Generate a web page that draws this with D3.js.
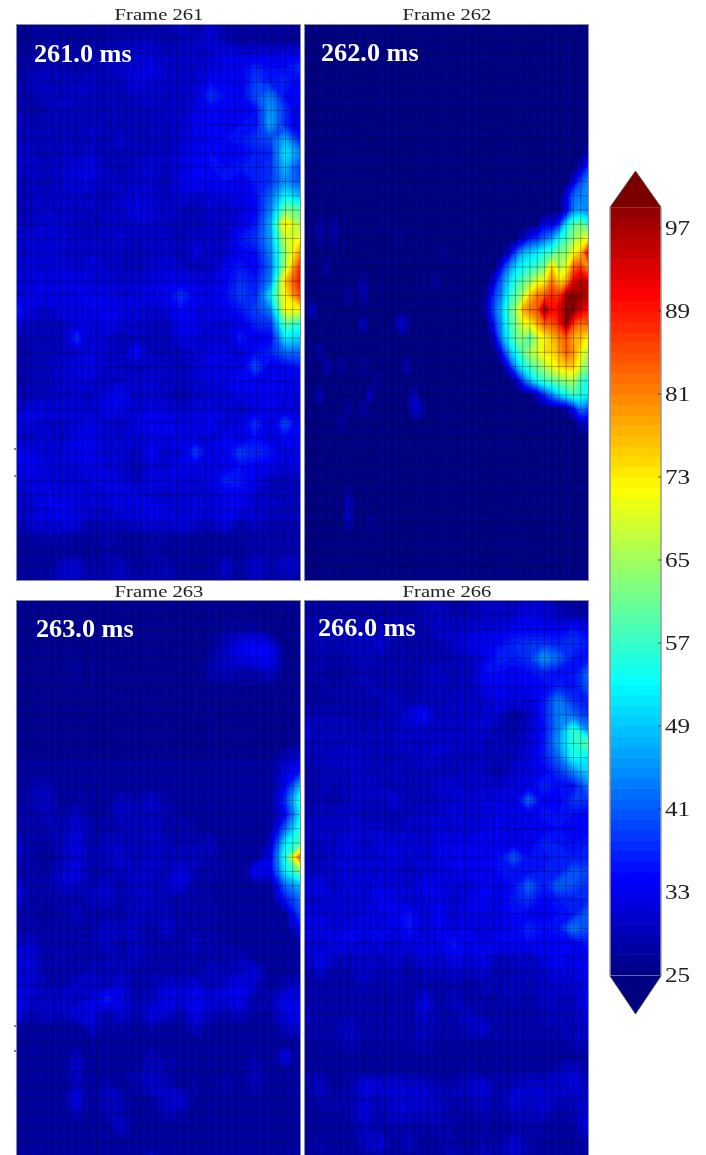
<!DOCTYPE html>
<html><head><meta charset="utf-8">
<script src="https://cdnjs.cloudflare.com/ajax/libs/d3/7.8.5/d3.min.js"></script>
<style>html,body{margin:0;padding:0;background:#fff;overflow:hidden}svg{display:block;filter:blur(0.45px)}</style>
</head><body><svg id="c" width="706" height="1155"></svg>
<script>
const frame261 = [
[26,27,27,27,27,27,28,27,27,27,28,31,27,31,28,27,27,27,27,27],
[26,27,28,28,27,27,28,29,29,30,28,29,30,32,29,27,28,27,27,26],
[27,28,28,28,28,29,29,30,31,31,30,30,30,31,33,32,32,32,33,32],
[27,29,30,29,28,29,30,31,32,34,31,30,31,32,33,34,37,35,35,38],
[28,30,30,29,30,31,29,30,33,31,31,30,31,35,34,33,39,36,37,33],
[28,29,30,30,31,29,30,29,31,30,30,30,32,38,35,34,40,44,35,34],
[29,28,29,30,29,29,29,30,29,30,30,30,33,34,34,33,35,46,38,31],
[30,29,30,29,30,30,30,29,29,30,30,31,34,35,33,35,35,47,37,32],
[29,30,29,30,29,30,29,32,29,30,29,31,33,34,35,36,38,40,47,36],
[30,30,29,30,30,31,29,30,29,30,30,32,34,35,33,34,36,37,52,44],
[30,31,30,31,32,33,30,29,31,32,30,32,34,35,35,36,36,38,48,38],
[29,30,29,31,32,32,30,30,30,31,29,33,35,34,35,33,36,38,45,40],
[29,30,30,30,31,30,29,31,32,31,30,32,31,32,32,33,35,42,53,48],
[28,30,31,30,30,30,30,31,33,32,30,30,29,31,30,32,34,44,62,60],
[29,30,32,31,30,29,30,30,31,31,30,29,29,31,30,33,36,47,75,65],
[31,32,31,32,30,30,30,32,30,30,31,29,31,30,31,36,38,46,68,72],
[30,31,32,31,30,31,30,30,29,30,31,29,33,30,31,34,35,44,64,80],
[31,32,31,32,31,32,31,30,29,31,32,31,29,30,34,36,34,42,66,88],
[31,32,33,32,33,32,31,31,31,32,33,33,33,32,34,38,36,44,76,90],
[31,33,33,32,33,33,33,32,32,33,34,38,34,33,35,39,37,52,72,86],
[37,32,31,33,32,33,34,33,32,31,32,35,33,32,34,36,39,44,72,72],
[32,30,29,30,32,32,33,32,31,30,30,34,33,32,31,33,37,38,60,56],
[28,29,29,30,38,31,31,29,30,29,29,33,32,31,31,37,33,34,52,50],
[28,29,29,30,31,32,31,30,36,30,29,30,31,33,33,31,35,37,42,42],
[28,29,30,31,33,33,31,30,29,30,31,29,31,33,32,33,40,33,34,36],
[28,29,29,31,31,32,30,31,31,32,30,30,32,32,33,34,34,33,33,32],
[29,29,30,30,31,30,33,35,30,31,30,28,30,31,31,33,33,34,33,32],
[30,33,32,32,31,31,33,33,31,33,32,31,32,32,32,30,32,33,32,31],
[32,32,31,30,32,33,31,30,33,34,34,32,33,35,31,33,38,32,40,33],
[30,30,32,30,33,33,31,31,31,32,33,32,32,31,35,32,35,32,35,34],
[34,33,31,32,33,34,31,32,30,35,31,32,39,33,34,39,37,36,32,33],
[33,34,32,31,32,33,32,31,29,32,31,33,33,32,33,35,34,33,32,33],
[31,32,32,31,31,32,32,32,30,33,33,32,31,33,37,36,33,30,29,30],
[30,32,33,32,33,31,32,33,32,31,30,31,31,31,33,34,31,30,29,29],
[30,31,33,34,32,31,31,33,32,34,33,31,33,32,33,33,31,30,30,29],
[29,32,32,32,33,29,30,30,31,32,31,33,31,30,34,29,31,29,29,29],
[28,28,29,29,28,28,28,28,27,28,28,28,28,27,28,28,28,28,28,28],
[27,27,27,27,27,27,28,27,27,29,27,27,27,27,27,27,29,28,28,28],
[27,27,27,31,32,28,29,31,27,28,30,27,27,27,32,28,32,29,32,30],
[27,27,27,30,30,28,28,30,28,28,29,27,27,27,29,27,30,28,28,28]
];
const frame263 = [
[26,26,26,26,26,26,26,26,26,26,26,26,26,26,26,26,26,26,26,26],
[26,26,26,26,26,26,26,26,26,26,26,26,26,26,26,26,26,26,26,26],
[26,26,26,26,26,26,26,26,26,26,26,26,26,26,28,28,28,26,26,26],
[26,26,26,26,26,26,26,26,26,26,26,26,26,27,30,34,35,33,26,26],
[26,26,26,26,27,26,26,26,26,26,26,26,26,28,31,33,34,35,27,26],
[26,26,26,26,28,26,26,26,26,26,26,26,26,29,30,29,29,31,27,26],
[26,26,26,26,27,26,26,26,26,26,26,26,26,27,27,27,27,27,26,26],
[26,26,26,26,26,26,26,26,26,26,26,26,26,26,26,26,26,26,26,26],
[26,26,26,26,26,26,26,26,26,26,26,26,26,26,26,26,26,26,26,26],
[26,26,26,26,26,26,26,26,26,26,26,26,26,26,26,26,26,26,26,26],
[26,26,26,26,26,26,26,26,26,26,26,26,26,26,26,26,26,26,26,27],
[27,27,27,27,27,27,27,27,27,27,27,27,27,27,27,27,27,27,30,31],
[27,27,27,27,27,27,27,27,27,27,27,27,27,27,27,27,27,27,33,36],
[27,29,30,27,28,27,27,27,27,27,27,27,27,27,27,27,27,27,34,48],
[27,29,31,27,28,28,27,31,29,32,29,27,27,27,27,27,27,27,38,56],
[28,28,30,28,31,27,28,31,29,30,29,28,27,27,27,27,27,27,34,52],
[28,28,29,29,32,29,28,29,29,31,28,28,28,27,27,27,27,28,42,56],
[31,28,28,30,33,28,31,30,29,30,30,29,29,31,27,27,27,30,52,58],
[30,28,27,29,32,29,30,32,29,31,29,30,29,29,27,27,27,33,56,84],
[28,28,28,31,33,28,29,30,30,31,29,33,29,28,28,27,36,33,52,62],
[32,28,29,31,31,29,32,28,31,29,31,33,28,28,27,27,27,27,42,48],
[32,28,28,28,28,30,31,29,30,31,29,28,28,28,27,27,27,27,36,42],
[28,28,27,28,31,28,28,28,30,29,30,28,28,28,28,27,27,27,28,40],
[28,28,28,28,28,29,31,30,30,28,32,28,28,28,27,27,27,27,27,34],
[30,31,28,28,28,29,31,28,30,28,29,28,31,28,28,27,27,27,27,28],
[32,32,28,30,28,28,29,29,31,28,28,28,29,28,28,30,27,27,27,27],
[31,32,28,28,28,30,29,30,28,29,28,28,28,31,29,30,33,27,27,27],
[32,31,29,29,32,30,30,32,28,29,32,31,33,29,32,34,31,27,30,31],
[33,31,30,31,30,32,37,33,29,30,33,32,34,32,32,34,28,29,34,32],
[33,29,31,30,33,33,29,32,29,33,32,29,34,30,29,31,28,28,33,33],
[29,27,28,27,27,31,28,29,27,29,27,27,31,27,27,27,27,27,31,31],
[27,27,27,28,27,28,27,27,27,27,27,27,27,27,27,27,27,27,27,28],
[27,27,27,27,31,27,27,27,27,30,28,28,27,27,27,27,29,27,34,27],
[28,27,27,27,31,27,27,28,28,30,29,27,27,27,27,27,30,27,28,27],
[27,27,27,27,30,27,30,27,29,31,30,27,29,27,30,27,30,27,27,27],
[27,28,27,27,34,27,30,30,27,28,31,33,27,27,27,27,28,27,28,27],
[27,27,27,27,30,27,29,29,27,27,30,29,27,27,27,27,27,27,27,27],
[27,27,27,27,27,27,27,32,27,27,27,27,27,27,27,27,27,27,27,27],
[27,27,27,27,27,27,27,27,27,27,27,27,27,28,27,27,27,27,27,27],
[27,27,27,27,27,27,27,27,27,30,27,27,27,27,27,27,27,27,27,27]
];
const frame266 = [
[27,27,27,27,27,27,27,27,29,29,27,28,31,30,29,31,31,28,27,27],
[28,28,28,28,28,28,28,28,29,30,29,29,30,30,31,33,32,30,29,28],
[29,29,29,29,30,30,29,28,29,31,30,31,32,32,34,34,34,33,36,33],
[28,30,29,30,30,32,29,28,28,29,31,33,34,35,37,38,38,37,38,36],
[27,29,28,29,29,29,28,28,28,28,29,30,32,37,36,38,46,42,36,35],
[28,28,27,28,29,28,28,28,30,31,29,29,35,35,34,35,37,35,35,42],
[27,28,28,29,29,29,28,28,29,31,29,29,33,34,33,34,34,37,35,41],
[28,27,28,28,28,29,31,29,29,29,31,30,31,33,32,32,36,44,38,36],
[29,29,29,29,28,29,29,33,36,30,30,30,31,31,27,30,36,44,42,38],
[33,29,29,29,29,29,30,31,30,30,30,31,31,29,28,31,35,44,56,44],
[30,29,29,30,29,29,30,31,30,31,31,30,30,29,29,31,36,46,56,60],
[29,30,31,30,31,29,29,30,31,31,30,29,30,29,30,32,36,42,54,52],
[28,29,29,30,30,29,31,29,30,29,29,30,30,28,31,32,34,38,44,50],
[28,29,29,30,30,30,29,30,29,32,32,30,31,31,32,33,37,35,35,43],
[28,29,28,30,30,30,33,29,29,30,31,31,32,33,32,42,34,34,38,38],
[29,30,30,31,29,29,29,30,31,31,33,31,32,33,33,33,36,35,35,34],
[30,31,30,31,31,31,30,31,30,32,31,31,33,33,32,33,33,35,34,34],
[29,30,31,33,30,32,32,31,31,33,33,33,33,33,33,33,37,36,35,36],
[29,29,31,32,31,31,33,31,31,33,33,33,34,35,41,35,35,37,36,36],
[30,30,31,31,32,31,31,30,31,32,33,33,33,35,35,35,36,36,41,39],
[32,34,30,33,31,33,31,31,34,33,32,31,34,32,35,42,36,42,40,38],
[30,31,31,31,31,34,33,31,32,33,31,33,35,33,36,38,34,36,36,37],
[32,32,31,31,32,32,33,36,31,35,31,33,32,32,35,34,33,35,36,42],
[33,33,32,33,33,33,33,36,31,34,32,33,32,33,34,37,35,36,44,40],
[31,31,33,33,31,33,31,33,32,33,36,33,33,34,34,35,33,34,34,36],
[30,34,31,30,31,30,32,30,33,31,34,32,34,30,31,30,33,35,33,33],
[28,32,28,29,31,29,30,28,30,30,31,30,32,28,29,30,31,33,32,35],
[28,28,28,28,30,28,30,28,29,28,29,28,29,29,29,29,30,31,31,33],
[28,28,28,28,28,28,28,28,33,28,31,28,29,28,30,28,31,30,30,34],
[30,28,28,29,28,28,28,28,32,28,29,31,28,29,28,28,29,29,29,33],
[29,28,29,31,28,28,28,28,30,29,28,30,33,28,28,28,29,29,29,31],
[28,28,28,30,28,28,28,29,29,28,28,28,28,28,28,28,28,28,30,30],
[27,27,27,28,27,27,27,27,28,27,27,27,27,27,27,27,27,27,27,28],
[28,28,27,28,27,27,28,28,27,27,27,28,27,28,28,28,28,30,32,28],
[28,32,27,29,34,32,32,31,31,29,29,31,33,28,30,31,31,30,33,29],
[27,29,28,28,31,29,31,31,32,30,29,29,31,28,33,31,32,30,30,31],
[27,28,28,29,33,29,31,31,30,30,28,28,30,28,30,30,31,28,29,32],
[27,27,27,27,30,28,29,28,28,29,28,27,28,27,28,28,28,27,28,33],
[27,29,27,27,31,32,28,31,27,28,28,27,29,28,32,29,28,27,27,29],
[27,28,27,27,28,29,27,28,27,27,30,27,30,28,31,28,27,27,27,28]
];
// Frame 262: floor value, plus the nodes that rise above it (node row, node column, value...)
const frame262Floor = 25.4;
const frame262Core = [
[9,39,30],
[10,37,26,30,38],
[11,36,26,32,40,44],
[12,35,26,33,42,44,44],
[13,35,26,32,44,46,44],
[14,32,26,34,32,38,52,60,62,56],
[15,29,26,30,36,38,42,46,54,58,64,68,72],
[16,27,26,30,40,48,50,52,56,58,62,64,72,76,92],
[17,26,26,34,44,50,54,56,58,62,76,66,70,84,86,80],
[18,25,26,32,42,50,56,60,64,70,72,82,74,78,92,96,94],
[19,25,28,38,44,54,60,66,76,82,84,88,86,98,100,98,96],
[20,25,30,40,48,58,64,78,82,84,100,90,92,100,100,94,90],
[21,25,26,36,46,56,62,70,72,78,84,84,88,100,86,82,84],
[22,26,30,44,54,60,64,58,68,72,76,80,84,78,76,72],
[23,26,26,34,46,54,60,66,68,74,74,78,84,80,72,66],
[24,27,26,34,46,54,58,62,66,70,74,76,76,68,62],
[25,29,28,40,48,54,58,60,62,64,66,58,54],
[26,31,26,30,38,44,50,54,58,56,52],
[27,35,26,28,34,44,40],
[28,38,30,30]
];
const frame262Faint = [
[14,2,29],[15,2,29],[14,4,29],[15,4,29],[17,3,29],[18,8,29],[19,6,29],[19,8,30],[20,1,33],[21,8,32],
[21,13,32],[21,14,30],[18,18,29],[16,19,28],[15,13,27],[23,2,30],[24,3,31],[24,5,29],[24,8,28],[24,14,31],
[25,10,29],[26,9,32],[26,2,32],[27,8,29],[27,6,29],[27,15,32],[27,16,30],[26,15,31],[28,5,29],[33,6,29],
[34,6,31],[35,6,30],[35,9,28],[25,10,28]
];
const panelFrames = ["261","262","263","266"];
const panelStamps = ["261.0 ms","262.0 ms","263.0 ms","266.0 ms"];
const colorbarTicks = [25,33,41,49,57,65,73,81,89,97];

// ---- layout ----
const W = 706, H = 1155;
const panelX = [17,305,17,305], panelY = [25,25,601,601], panelW = 283, panelH = 555;
const stampX = [34,321,36,318], stampY = [62,61,637,636];
const titleY = [19.5,19.5,596.5,596.5];
const gridCells = 39;

const svg = d3.select("#c");
const defs = svg.append("defs");

const jet = t => {
  const c = v => Math.round(255*Math.max(0,Math.min(1,v)));
  const r = 1.5-Math.abs(4*t-3), g = 1.5-Math.abs(4*t-2), b = 1.5-Math.abs(4*t-1);
  return `rgb(${c(r)},${c(g)},${c(b)})`;
};
const levels = d3.range(25,100);
const colorOf = d3.scaleOrdinal(levels, levels.map(v => jet((v+0.5-25)/75)));

// Frame 262 node grid
const n262 = gridCells+1;
const frame262 = d3.range(n262).map(() => d3.range(n262).map(() => frame262Floor));
frame262Faint.forEach(([r,c,v]) => { frame262[r][c] = v; });
frame262Core.forEach(([r,start,...vals]) => vals.forEach((v,i) => { frame262[r][start+i] = v; }));
const panelData = [frame261, frame262, frame263, frame266];

panelData.forEach((rows,p) => {
  const m = rows.length, n = rows[0].length;
  const x0 = panelX[p], y0 = panelY[p];
  const xs = d3.scaleLinear([0,n-1],[x0,x0+panelW]);
  const ys = d3.scaleLinear([0,m-1],[y0,y0+panelH]);
  defs.append("clipPath").attr("id","clip"+p).append("rect")
    .attr("x",x0).attr("y",y0).attr("width",panelW).attr("height",panelH);
  const g = svg.append("g").attr("clip-path",`url(#clip${p})`);
  g.append("rect").attr("x",x0).attr("y",y0).attr("width",panelW).attr("height",panelH).attr("fill",jet(0));
  const contours = d3.contours().size([n,m]).thresholds(levels)(rows.flat());
  const path = d3.geoPath(d3.geoTransform({point(a,b){ this.stream.point(xs(a-0.5), ys(b-0.5)); }}));
  g.selectAll("path.band").data(contours.filter(c => c.coordinates.length)).join("path")
    .attr("class","band").attr("d",path).attr("fill",d => colorOf(d.value));
  // cell grid
  const gx = d3.scaleLinear([0,gridCells],[x0,x0+panelW]);
  const gy = d3.scaleLinear([0,gridCells],[y0,y0+panelH]);
  g.selectAll("line.v").data(d3.range(1,gridCells)).join("line").attr("class","v")
    .attr("x1",gx).attr("x2",gx).attr("y1",y0).attr("y2",y0+panelH)
    .attr("stroke","#000").attr("stroke-opacity",0.3).attr("stroke-width",1);
  g.selectAll("line.h").data(d3.range(1,gridCells)).join("line").attr("class","h")
    .attr("y1",gy).attr("y2",gy).attr("x1",x0).attr("x2",x0+panelW)
    .attr("stroke","#000").attr("stroke-opacity",0.3).attr("stroke-width",1);
  svg.append("rect").attr("x",x0-0.5).attr("y",y0-0.5).attr("width",panelW+1).attr("height",panelH+1)
    .attr("fill","none").attr("stroke","#8c8c8c").attr("stroke-width",1);
  svg.append("text").attr("transform",`translate(${x0+panelW/2+0.5},${titleY[p]}) scale(1.18,1)`)
    .attr("text-anchor","middle").attr("font-family","'Liberation Serif',serif").attr("font-size",17.5)
    .attr("fill","#222").text("Frame "+panelFrames[p]);
  svg.append("text").attr("transform",`translate(${stampX[p]},${stampY[p]}) scale(1.05,1)`)
    .attr("font-family","'Liberation Serif',serif").attr("font-weight","bold").attr("font-size",25)
    .attr("fill","#fff").text(panelStamps[p]);
});

// small stray ticks left of the lower panels' edges
const strayTicks = [448,475,1025,1050];
svg.selectAll("line.stray").data(strayTicks).join("line").attr("class","stray")
  .attr("x1",15).attr("x2",15).attr("y1",d=>d).attr("y2",d=>d+2).attr("stroke","#333").attr("stroke-width",1.2);

// ---- colour bar ----
const barL = 610, barR = 661, barMid = 635.5;
const cy = d3.scaleLinear([25,97],[975,228]);
const barTop = cy(99), barBot = cy(25)+1;
const barG = svg.append("g");
barG.selectAll("rect").data(d3.range(25,99)).join("rect")
  .attr("x",barL).attr("width",barR-barL)
  .attr("y",d => cy(d+1)).attr("height",d => cy(d)-cy(d+1)+0.6)
  .attr("fill",d => colorOf(d));
const line = d3.line();
barG.append("path").attr("d",line([[barL,barTop],[barMid,171],[barR,barTop]])).attr("fill","#7a0000").attr("stroke","#444").attr("stroke-width",0.8);
barG.append("path").attr("d",line([[barL,barBot],[barMid,1014],[barR,barBot]])).attr("fill",jet(0)).attr("stroke","#444").attr("stroke-width",0.8);
barG.append("line").attr("x1",barL).attr("x2",barL).attr("y1",barTop).attr("y2",barBot).attr("stroke","#999").attr("stroke-width",1.5);
barG.append("line").attr("x1",barR).attr("x2",barR).attr("y1",barTop).attr("y2",barBot).attr("stroke","#999").attr("stroke-width",1.5);
const tickG = svg.append("g").selectAll("g").data(colorbarTicks).join("g");
tickG.append("line").attr("x1",barR-3).attr("x2",barR).attr("y1",d=>cy(d)).attr("y2",d=>cy(d)).attr("stroke","#333").attr("stroke-width",0.8);
tickG.append("text").attr("transform",d=>`translate(665,${cy(d)+7}) scale(1.2,1)`)
  .attr("font-family","'Liberation Serif',serif").attr("font-size",21).attr("fill","#222").text(d=>d);
</script></body></html>
